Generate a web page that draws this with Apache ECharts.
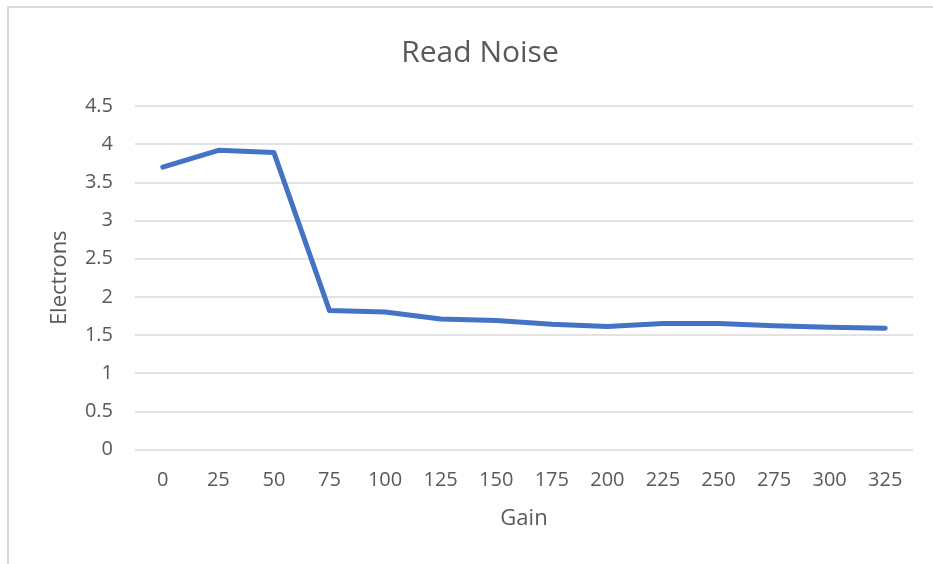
<!DOCTYPE html>
<html>
<head>
<meta charset="utf-8">
<script src="https://cdn.jsdelivr.net/npm/echarts@6/dist/echarts.min.js"></script>
<style>
  html, body { margin: 0; padding: 0; background: #fff; }
  #chart { width: 933px; height: 564px; }
</style>
</head>
<body>
<div id="chart"></div>
<script>
// gain settings on the x axis
var gains = ["0", "25", "50", "75", "100", "125", "150", "175", "200", "225", "250", "275", "300", "325"];
// read noise in electrons
var readNoise = [3.70, 3.92, 3.89, 1.82, 1.80, 1.71, 1.69, 1.64, 1.61, 1.65, 1.65, 1.62, 1.60, 1.59];
var yTicks = [0, 0.5, 1, 1.5, 2, 2.5, 3, 3.5, 4, 4.5];

var textColor = "#595959";
var fontName = "Open Sans";

var myChart = echarts.init(document.getElementById("chart"));

var option = {
    backgroundColor: "#fff",
    animation: false,
    title: {
        text: "Read Noise",
        top: 33,
        left: 475,
        textAlign: "center",
        textStyle: { color: textColor, fontFamily: fontName, fontSize: 30, fontWeight: "normal" }
    },
    // chart border like the excel frame
    graphic: [{
        type: "rect",
        shape: { x: 8, y: 7, width: 940, height: 580 },
        style: { fill: "none", stroke: "#d9d9d9", lineWidth: 2 },
        silent: true
    }],
    grid: { left: 135, right: 20, top: 106, bottom: 114.5 },
    xAxis: {
        type: "category",
        data: gains,
        boundaryGap: true,
        name: "Gain",
        nameLocation: "middle",
        nameGap: 58,
        nameTextStyle: { color: textColor, fontFamily: fontName, fontSize: 22 },
        axisLine: { show: false },
        axisTick: { show: false },
        axisLabel: { color: textColor, fontFamily: fontName, fontSize: 20, margin: 21 }
    },
    yAxis: {
        type: "value",
        min: yTicks[0],
        max: yTicks[yTicks.length - 1],
        interval: 0.5,
        name: "Electrons",
        nameLocation: "middle",
        nameGap: 64,
        nameTextStyle: { color: textColor, fontFamily: fontName, fontSize: 22 },
        axisLine: { show: false },
        axisTick: { show: false },
        axisLabel: { color: textColor, fontFamily: fontName, fontSize: 20, margin: 22 },
        splitLine: { lineStyle: { color: "#d9d9d9", width: 1.5 } }
    },
    series: [{
        name: "Read Noise",
        type: "line",
        data: readNoise,
        symbol: "none",
        lineStyle: { color: "#4472c4", width: 5, cap: "round", join: "round" }
    }]
};

myChart.setOption(option, true);
</script>
</body>
</html>
